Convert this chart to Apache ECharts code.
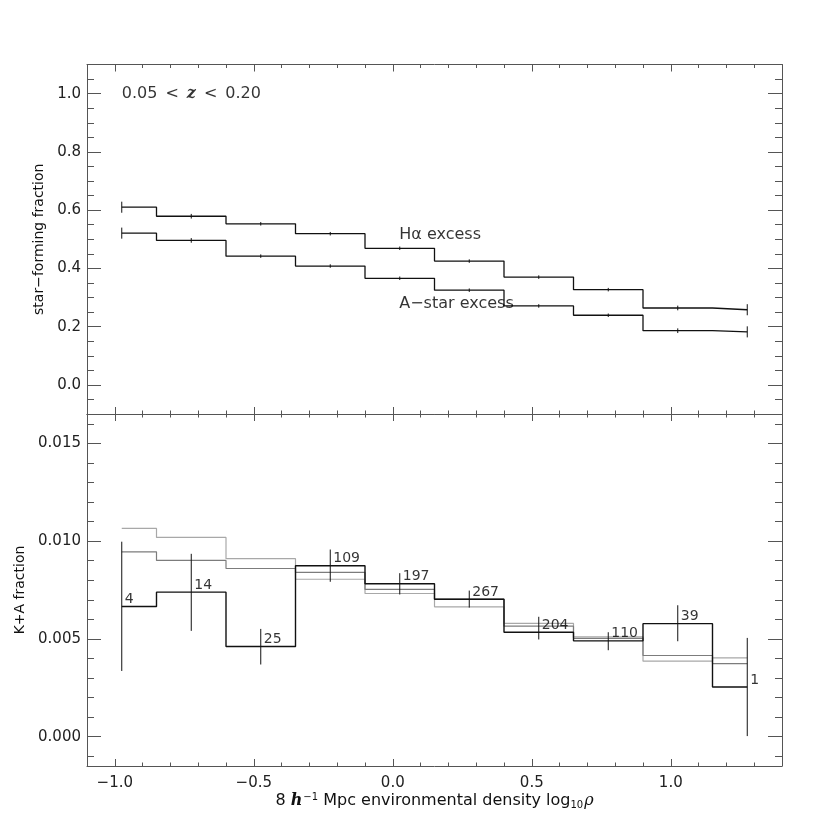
<!DOCTYPE html>
<html>
<head>
<meta charset="utf-8">
<script src="https://cdn.jsdelivr.net/npm/echarts@6/dist/echarts.min.js"></script>
<style>
  html, body { margin: 0; padding: 0; background: #fff; }
  #chart { width: 830px; height: 830px; }
</style>
</head>
<body>
<div id="chart"></div>
<script>
// bin centres (log10 density)
const xCenters = [-0.975, -0.725, -0.475, -0.225, 0.025, 0.275, 0.525, 0.775, 1.025, 1.275];

// top panel: star-forming fraction
const haExcess    = [0.610, 0.579, 0.553, 0.519, 0.469, 0.425, 0.370, 0.327, 0.264, 0.258];
const haErr       = [0.019, 0.008, 0.006, 0.006, 0.006, 0.006, 0.006, 0.006, 0.008, 0.019];
const aStarExcess = [0.521, 0.496, 0.442, 0.408, 0.366, 0.325, 0.271, 0.239, 0.186, 0.182];
const aStarErr    = [0.019, 0.008, 0.006, 0.006, 0.006, 0.006, 0.006, 0.006, 0.008, 0.019];

// bottom panel: K+A fraction
const kaFraction = [0.00666, 0.00739, 0.00461, 0.00874, 0.00782, 0.00703, 0.00534, 0.00490, 0.00578, 0.00254];
const kaLow      = [0.00336, 0.00541, 0.00369, 0.00792, 0.00727, 0.00660, 0.00497, 0.00442, 0.00488, 0.00003];
const kaHigh     = [0.00997, 0.00935, 0.00551, 0.00957, 0.00836, 0.00747, 0.00613, 0.00534, 0.00672, 0.00505];
const kaCounts   = [4, 14, 25, 109, 197, 267, 204, 110, 39, 1];
const grayLight  = [0.01065, 0.01019, 0.00910, 0.00805, 0.00732, 0.00664, 0.00579, 0.00510, 0.00386, 0.00403];
const grayDark   = [0.00945, 0.00901, 0.00860, 0.00840, 0.00753, 0.00703, 0.00565, 0.00503, 0.00415, 0.00374];

// ticks
const xMajor = [-1.0, -0.5, 0.0, 0.5, 1.0];
const xMinor = [-1.1, -0.9, -0.8, -0.7, -0.6, -0.4, -0.3, -0.2, -0.1, 0.1, 0.2, 0.3, 0.4, 0.6, 0.7, 0.8, 0.9, 1.1, 1.2, 1.3];
const yTopMajor = [0.0, 0.2, 0.4, 0.6, 0.8, 1.0];
const yTopMinor = [-0.05, 0.05, 0.1, 0.15, 0.25, 0.3, 0.35, 0.45, 0.5, 0.55, 0.65, 0.7, 0.75, 0.85, 0.9, 0.95, 1.05];
const yBotMajor = [0.000, 0.005, 0.010, 0.015];
const yBotMinor = [-0.001, 0.001, 0.002, 0.003, 0.004, 0.006, 0.007, 0.008, 0.009, 0.011, 0.012, 0.013, 0.014, 0.016];

const FONT = 'DejaVu Sans';
const FRAME = '#555';
const INK = '#111';
const minus = v => v.toFixed(1).replace('-', '\u2212');

function axis(grid, position, min, max, ticks, len, lineOn, label) {
  return {
    type: 'value', gridIndex: grid, position: position, min: min, max: max,
    axisLine: { show: lineOn, onZero: false, lineStyle: { color: FRAME, width: 1 } },
    axisTick: { show: true, inside: true, length: len, customValues: ticks, lineStyle: { color: FRAME, width: 1 } },
    axisLabel: label ? Object.assign({ show: true, color: '#222', fontFamily: FONT, fontSize: 15 }, label) : { show: false },
    splitLine: { show: false }
  };
}

const xAxes = [
  axis(0, 'bottom', -1.1, 1.4, xMajor, 7, true),
  axis(0, 'bottom', -1.1, 1.4, xMinor, 3.5, false),
  axis(0, 'top', -1.1, 1.4, xMajor, 7, true),
  axis(0, 'top', -1.1, 1.4, xMinor, 3.5, false),
  axis(1, 'bottom', -1.1, 1.4, xMajor, 7, true, { customValues: xMajor, formatter: minus, margin: 10 }),
  axis(1, 'bottom', -1.1, 1.4, xMinor, 3.5, false),
  axis(1, 'top', -1.1, 1.4, xMajor, 7, true),
  axis(1, 'top', -1.1, 1.4, xMinor, 3.5, false)
];
xAxes[4].name = '8 {i|h}{sup|\u22121} Mpc environmental density log{sub|10}{r|\u03c1}';
xAxes[4].nameLocation = 'middle';
xAxes[4].nameGap = 26;
xAxes[4].nameTextStyle = {
  fontFamily: FONT, fontSize: 16, color: '#111',
  rich: {
    i: { fontFamily: 'DejaVu Serif', fontStyle: 'italic', fontWeight: 'bold', fontSize: 16, color: '#111' },
    sup: { fontFamily: FONT, fontSize: 10, verticalAlign: 'top', padding: [0, 0, 8, 1], color: '#111' },
    sub: { fontFamily: FONT, fontSize: 10, verticalAlign: 'bottom', padding: [6, 1, 0, 0], color: '#111' },
    r: { fontFamily: 'DejaVu Serif', fontStyle: 'italic', fontSize: 16, color: '#111' }
  }
};

const yAxes = [
  axis(0, 'left', -0.1, 1.1, yTopMajor, 14, true, { customValues: yTopMajor, formatter: v => v.toFixed(1), margin: 6 }),
  axis(0, 'left', -0.1, 1.1, yTopMinor, 7, false),
  axis(0, 'right', -0.1, 1.1, yTopMajor, 14, true),
  axis(0, 'right', -0.1, 1.1, yTopMinor, 7, false),
  axis(1, 'left', -0.0015, 0.0165, yBotMajor, 14, true, { customValues: yBotMajor, formatter: v => v.toFixed(3), margin: 6 }),
  axis(1, 'left', -0.0015, 0.0165, yBotMinor, 7, false),
  axis(1, 'right', -0.0015, 0.0165, yBotMajor, 14, true),
  axis(1, 'right', -0.0015, 0.0165, yBotMinor, 7, false)
];
yAxes[0].name = 'star\u2212forming fraction';
yAxes[4].name = 'K+A fraction';
[0, 4].forEach(k => {
  yAxes[k].nameLocation = 'middle';
  yAxes[k].nameGap = 40;
  yAxes[k].nameTextStyle = { fontFamily: FONT, fontSize: 14, color: '#111' };
});

const pts = arr => xCenters.map((x, i) => [x, arr[i]]);

function stepLine(data, xi, yi, color, width, z) {
  return {
    type: 'line', xAxisIndex: xi, yAxisIndex: yi, data: pts(data), step: 'middle',
    symbol: 'none', lineStyle: { color: color, width: width }, z: z, silent: true
  };
}

function errorBars(lo, hi, xi, yi) {
  return {
    type: 'custom', xAxisIndex: xi, yAxisIndex: yi, silent: true, z: 5,
    data: xCenters.map((x, i) => [x, lo[i], hi[i]]),
    encode: { x: 0, y: [1, 2] },
    renderItem: function (params, api) {
      const a = api.coord([api.value(0), api.value(1)]);
      const b = api.coord([api.value(0), api.value(2)]);
      return { type: 'line', shape: { x1: a[0], y1: a[1], x2: b[0], y2: b[1] }, style: { stroke: INK, lineWidth: 1 } };
    }
  };
}

function textMarks(items, xi, yi, extra) {
  return {
    type: 'scatter', xAxisIndex: xi, yAxisIndex: yi, symbolSize: 0.1, silent: true, z: 6,
    itemStyle: { color: 'rgba(0,0,0,0)' },
    data: items,
    label: Object.assign({
      show: true, position: 'right', distance: 0, color: '#000', fontFamily: FONT, fontSize: 16,
      textBorderWidth: 0,
      rich: { z: { fontFamily: 'DejaVu Serif', fontStyle: 'italic', fontWeight: 'bold', fontSize: 16, color: '#000' } }
    }, extra)
  };
}

const option = {
  animation: false,
  backgroundColor: '#fff',
  grid: [
    { left: 87, right: 48, top: 64.5, height: 349.5 },
    { left: 87, right: 48, top: 414, height: 352 }
  ],
  xAxis: xAxes,
  yAxis: yAxes,
  series: [
    stepLine(haExcess, 0, 0, INK, 1.3, 3),
    stepLine(aStarExcess, 0, 0, INK, 1.3, 3),
    errorBars(haExcess.map((v, i) => v - haErr[i]), haExcess.map((v, i) => v + haErr[i]), 0, 0),
    errorBars(aStarExcess.map((v, i) => v - aStarErr[i]), aStarExcess.map((v, i) => v + aStarErr[i]), 0, 0),
    textMarks([
      { value: [-0.975, 1.0], label: { formatter: '0.05\u2002<\u2002{z|z}\u2002<\u20020.20' } },
      { value: [0.023, 0.514], label: { formatter: 'H\u03b1 excess' } },
      { value: [0.023, 0.278], label: { formatter: 'A\u2212star excess' } }
    ], 0, 0, {}),
    stepLine(grayLight, 4, 4, '#a8a8a8', 1.2, 2),
    stepLine(grayDark, 4, 4, '#7c7c7c', 1.2, 2),
    stepLine(kaFraction, 4, 4, INK, 1.4, 3),
    errorBars(kaLow, kaHigh, 4, 4),
    textMarks(xCenters.map((x, i) => ({ value: [x, kaFraction[i]], label: { formatter: String(kaCounts[i]) } })),
      4, 4, { distance: 3, verticalAlign: 'bottom', fontSize: 14 })
  ]
};

const chart = echarts.init(document.getElementById('chart'), null, { renderer: 'canvas' });
chart.setOption(option);
</script>
</body>
</html>
